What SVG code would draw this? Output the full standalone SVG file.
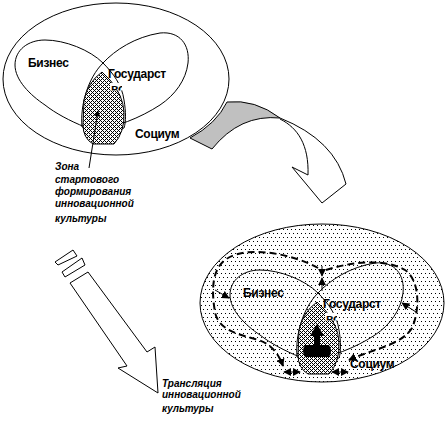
<svg xmlns="http://www.w3.org/2000/svg" width="446" height="447" viewBox="0 0 446 447">
<style>
.ln{fill:none;stroke:#000;stroke-width:1}
.lbl{font-family:"Liberation Sans",Arial,sans-serif;font-weight:bold;font-size:12px;fill:#000;letter-spacing:-0.3px}
.cap{font-family:"Liberation Sans",Arial,sans-serif;font-weight:bold;font-style:italic;font-size:10px;fill:#000}
.dash{fill:none;stroke:#000;stroke-width:2;stroke-dasharray:7 4}
.drop{fill:url(#hatch);stroke:#000;stroke-width:1}
</style>
<defs>
<pattern id="hatch" width="4" height="4" patternUnits="userSpaceOnUse">
<rect width="4" height="4" fill="#fff"/>
<rect x="0" y="0" width="1" height="1" fill="#000"/>
<rect x="1" y="1" width="1" height="1" fill="#000"/>
<rect x="2" y="2" width="1" height="1" fill="#000"/>
<rect x="3" y="3" width="1" height="1" fill="#000"/>
<rect x="1" y="3" width="1" height="1" fill="#000"/>
<rect x="3" y="1" width="1" height="1" fill="#000"/>
</pattern>
<pattern id="dots" width="4" height="8" patternUnits="userSpaceOnUse">
<rect width="4" height="8" fill="#fff"/>
<rect x="1" y="1" width="1" height="1" fill="#000"/>
<rect x="3" y="5" width="1" height="1" fill="#000"/>
</pattern>
<marker id="ah" viewBox="0 0 10 10" refX="9" refY="5" markerWidth="8" markerHeight="8" markerUnits="userSpaceOnUse" orient="auto">
<path d="M0,0 L10,5 L0,10 z" fill="#000"/>
</marker>
<marker id="ahs" viewBox="0 0 10 10" refX="9" refY="5" markerWidth="6" markerHeight="6" markerUnits="userSpaceOnUse" orient="auto">
<path d="M0,0 L10,5 L0,10 z" fill="#000"/>
</marker>
<path id="lobeL" d="M15,65 C15,50 28,40 45,40 C65,40 90,50 103,63 C113,73 122,85 124,100 C126,112 126,122 124,128 C110,133 95,132 85,127 C70,121 55,113 45,105 C30,95 15,80 15,65 Z"/>
<path id="lobeR" d="M82,127 C80,105 88,78 103,63 C115,50 135,37 160,33 C180,31 190,45 188,63 C186,80 175,95 160,105 C140,118 115,128 95,129 C88,129 84,128 82,127 Z"/>
<path id="dropShape" d="M102,72 L110,80 Q123,95 124,112 Q125,132 114,144 L93,144 Q83,138 83,125 L84,100 Q88,82 102,72 Z"/>
<clipPath id="c1"><rect x="110" y="83" width="12" height="7.5"/></clipPath>
</defs>

<g id="top-diagram">
<ellipse class="ln" cx="116" cy="79" rx="113" ry="76" fill="#fff"/>
<use href="#lobeL" class="ln"/>
<use href="#lobeR" class="ln"/>
<text class="lbl" x="28" y="67">Бизнес</text>
<text class="lbl" x="108" y="78">Государст</text>
<text class="lbl" x="135" y="138">Социум</text>
<use href="#dropShape" class="drop"/>
<g clip-path="url(#c1)"><rect x="110" y="83" width="12" height="8" fill="#fff"/><text class="lbl" x="111" y="93">во</text></g>
<path class="ln" d="M89,168 L98,111" marker-end="url(#ahs)"/>
<text class="cap"><tspan x="55" y="170">Зона</tspan><tspan x="55" y="183">стартового</tspan><tspan x="55" y="195">формирования</tspan><tspan x="55" y="207">инновационной</tspan><tspan x="55" y="222">культуры</tspan></text>
</g>

<g id="curved-arrow">
<path d="M190,138 A113,76 0 0 0 227,102 Q255,99 280,118 Q240,114 212,149 Z" fill="#c0c0c0" stroke="#000" stroke-width="1"/>
<path class="ln" d="M280,118 Q335,140 346,184 L322,203 L292,167 L308,175 C309,145 298,128 280,119"/>
</g>

<g id="translation-arrow">
<path class="ln" d="M55,262 L73,250 L77,256 L58,265 Z"/>
<path class="ln" d="M62,272 L82,258 L85,265 L65,277 Z"/>
<path class="ln" d="M70,283 L88,272 L147,352 L155,347 L158,393 L118,368 L127,366 Z"/>
<text class="cap"><tspan x="162" y="387">Трансляция</tspan><tspan x="162" y="398">инновационной</tspan><tspan x="162" y="412">культуры</tspan></text>
</g>

<g id="bottom-diagram">
<ellipse cx="322" cy="303" rx="122" ry="79" fill="url(#dots)" stroke="#000" stroke-width="1"/>
<g transform="translate(215,230)">
<use href="#lobeL" class="ln"/>
<use href="#lobeR" class="ln"/>
<text class="lbl" x="28" y="67">Бизнес</text>
<text class="lbl" x="108" y="78">Государст</text>
<text class="lbl" x="135" y="138">Социум</text>
<use href="#dropShape" class="drop"/>
<g clip-path="url(#c1)"><rect x="110" y="83" width="12" height="8" fill="#fff"/><text class="lbl" x="111" y="93">во</text></g>
</g>
<path d="M317,324 L324,336 L320,336 L320,345 L329,345 Q333,351 329,357 L305,357 Q301,351 305,345 L314,345 L314,336 L310,336 Z" fill="#000"/>
</g>

<g id="connectors">
<path class="dash" d="M318,268 C295,255 250,245 228,258 C210,268 212,295 215,312 C218,330 240,335 255,339 C270,343 278,352 283,366" marker-end="url(#ah)"/>
<path class="dash" d="M326,270 C350,262 385,258 405,270 C420,280 420,310 412,328 C402,345 370,350 349,360" marker-end="url(#ah)"/>
<path class="ln" stroke-width="2" d="M215,290 L229,298" marker-end="url(#ah)"/>
<path class="ln" stroke-width="2" d="M416,312 L402,303" marker-end="url(#ah)"/>
<path class="ln" d="M322,266 L322,276" marker-end="url(#ah)"/>
<path class="ln" d="M322,291 L322,278" marker-end="url(#ah)"/>
<path class="ln" d="M292,372 L284,372" marker-end="url(#ah)"/>
<path class="ln" d="M292,372 L300,372" marker-end="url(#ah)"/>
<path class="ln" d="M340,372 L332,372" marker-end="url(#ah)"/>
<path class="ln" d="M340,372 L348,372" marker-end="url(#ah)"/>
</g>
</svg>
